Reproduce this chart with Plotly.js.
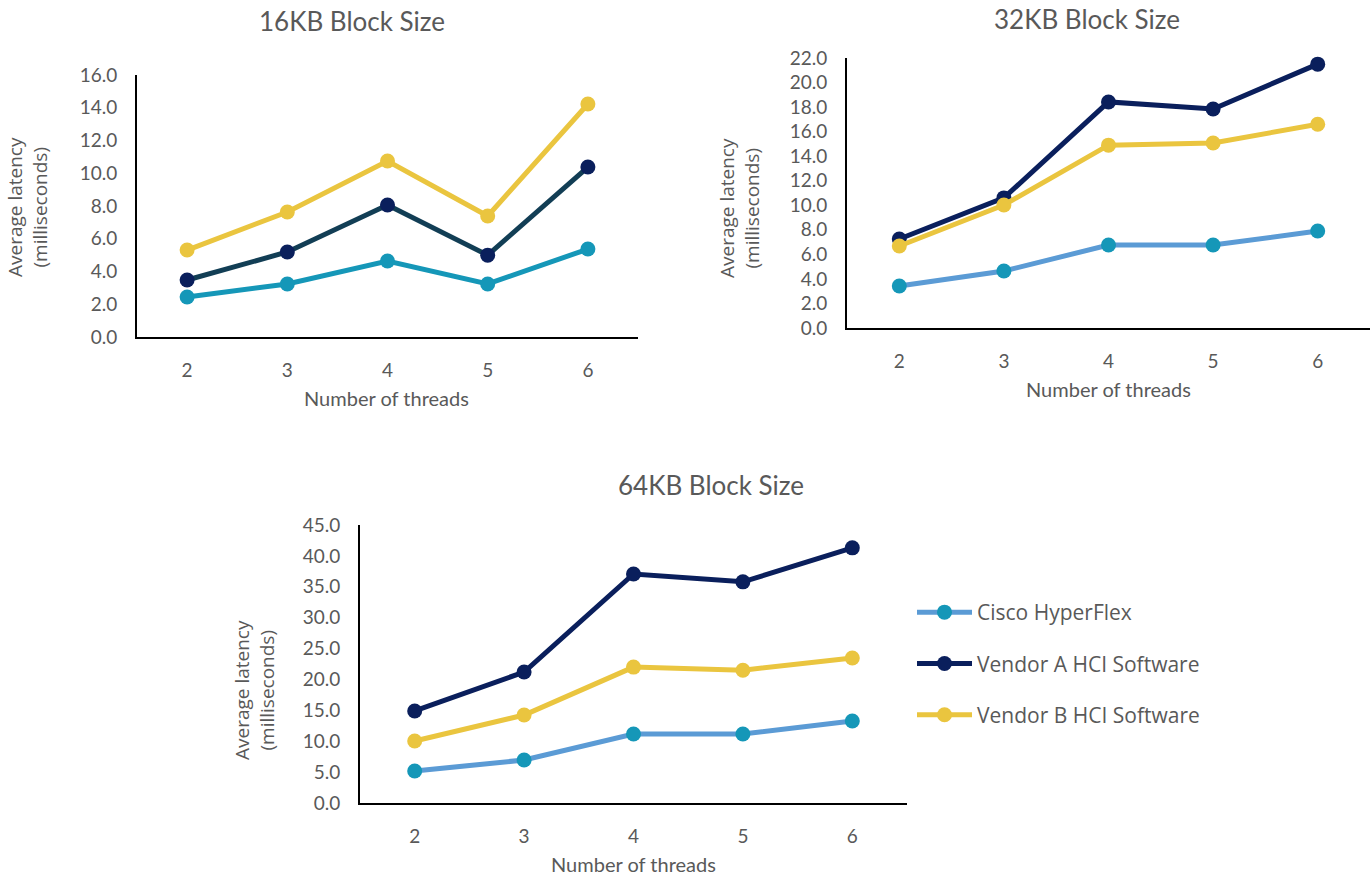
<!DOCTYPE html>
<html>
<head>
<meta charset="utf-8">
<script src="https://cdn.plot.ly/plotly-3.0.1.min.js"></script>
<style>html,body{margin:0;padding:0;background:#fff;}#chart{width:1370px;height:877px;}</style>
</head>
<body>
<div id="chart"></div>
<script>
const threads = ["2", "3", "4", "5", "6"];
const seriesNames = ["Cisco HyperFlex", "Vendor A HCI Software", "Vendor B HCI Software"];

const cisco16 = [2.44, 3.24, 4.64, 3.24, 5.37];
const vendorA16 = [3.48, 5.19, 8.06, 5.0, 10.38];
const vendorB16 = [5.31, 7.63, 10.75, 7.39, 14.23];

const cisco32 = [3.42, 4.64, 6.76, 6.76, 7.9];
const vendorA32 = [7.25, 10.6, 18.42, 17.85, 21.5];
const vendorB32 = [6.68, 10.02, 14.9, 15.08, 16.6];

const cisco64 = [5.18, 6.96, 11.17, 11.17, 13.27];
const vendorA64 = [14.9, 21.2, 37.07, 35.8, 41.3];
const vendorB64 = [10.04, 14.24, 22.0, 21.5, 23.47];

const W = 1370, H = 877;
const FONT = "Lato, 'Noto Sans', sans-serif";
const GREY = "#595959";

function tr(x, y, name, lineColor, markerColor, xa, ya, showlegend) {
  return {
    x: x, y: y, name: name, type: "scatter", mode: "lines+markers",
    xaxis: xa, yaxis: ya, showlegend: showlegend, legendgroup: name,
    line: {color: lineColor, width: 5},
    marker: {color: markerColor, size: 15},
    cliponaxis: false
  };
}

const TEAL = "#1597B8", LBLUE = "#5B9BD5", NAVY = "#0A1F5C", DTEAL = "#123E55", YEL = "#EAC53F";

const data = [
  tr(threads, cisco16, seriesNames[0], TEAL, TEAL, "x", "y", false),
  tr(threads, vendorA16, seriesNames[1], DTEAL, NAVY, "x", "y", false),
  tr(threads, vendorB16, seriesNames[2], YEL, YEL, "x", "y", false),
  tr(threads, cisco32, seriesNames[0], LBLUE, TEAL, "x2", "y2", false),
  tr(threads, vendorA32, seriesNames[1], NAVY, NAVY, "x2", "y2", false),
  tr(threads, vendorB32, seriesNames[2], YEL, YEL, "x2", "y2", false),
  tr(threads, cisco64, seriesNames[0], LBLUE, TEAL, "x3", "y3", true),
  tr(threads, vendorA64, seriesNames[1], NAVY, NAVY, "x3", "y3", true),
  tr(threads, vendorB64, seriesNames[2], YEL, YEL, "x3", "y3", true)
];

function xax(l, r, anchor) {
  return {
    domain: [l / W, r / W], anchor: anchor, type: "category", range: [-0.5, 4.5],
    showline: true, linecolor: "#000", linewidth: 2, showgrid: false, zeroline: false,
    ticks: "", tickfont: {family: FONT, size: 19, color: GREY}, ticklabelstandoff: 15,
    fixedrange: true
  };
}
function yax(bottom, top, max, dtick, anchor) {
  return {
    domain: [1 - bottom / H, 1 - top / H], anchor: anchor, range: [0, max], dtick: dtick,
    tickformat: ".1f", showline: true, linecolor: "#000", linewidth: 2, showgrid: false,
    zeroline: false, ticks: "", tickfont: {family: FONT, size: 19, color: GREY},
    ticklabelstandoff: 14, fixedrange: true
  };
}

function ann(text, x, y, size, angle) {
  return {
    text: text, x: x / W, y: 1 - y / H, xref: "paper", yref: "paper",
    showarrow: false, xanchor: "center", yanchor: "middle",
    textangle: angle || 0, font: {family: FONT, size: size, color: GREY}
  };
}
const YT = "Average latency<br>(milliseconds)";
const YFONT = "'Open Sans', sans-serif";
function yann(x, y) {
  const a = ann(YT, x, y, 19, -90);
  a.font.family = YFONT;
  return a;
}

const layout = {
  width: W, height: H, margin: {l: 0, r: 0, t: 0, b: 0},
  paper_bgcolor: "#fff", plot_bgcolor: "rgba(0,0,0,0)",
  xaxis: xax(137, 638, "y"), yaxis: yax(337, 75, 16, 2, "x"),
  xaxis2: xax(847, 1370, "y2"), yaxis2: yax(328, 58, 22, 2, "x2"),
  xaxis3: xax(360, 907, "y3"), yaxis3: yax(803, 525, 45, 5, "x3"),
  showlegend: true,
  legend: {
    x: 912 / W, y: 1 - 592 / H, xanchor: "left", yanchor: "top",
    font: {family: YFONT, size: 21, color: GREY}, traceorder: "grouped",
    tracegroupgap: 21, itemwidth: 55, bgcolor: "rgba(0,0,0,0)"
  },
  annotations: [
    ann("16KB Block Size", 352, 21, 26), ann("32KB Block Size", 1087, 19, 26), ann("64KB Block Size", 711, 485, 26),
    ann("Number of threads", 387, 398, 20), ann("Number of threads", 1108, 389, 20), ann("Number of threads", 633, 864, 20),
    yann(27, 207), yann(740, 208), yann(254, 690)
  ]
};

Plotly.newPlot("chart", data, layout, {displayModeBar: false, staticPlot: true});
</script>
</body>
</html>
